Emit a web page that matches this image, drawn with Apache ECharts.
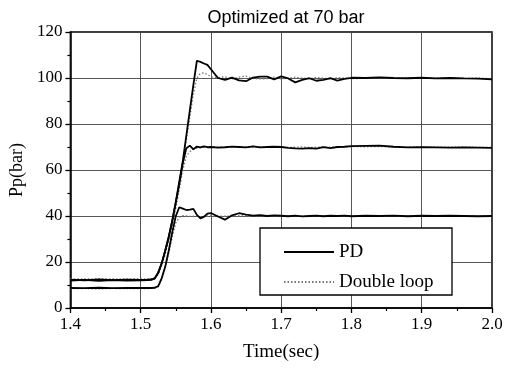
<!DOCTYPE html>
<html>
<head>
<meta charset="utf-8">
<script src="https://cdn.jsdelivr.net/npm/echarts@6/dist/echarts.min.js"></script>
<style>html,body{margin:0;padding:0;background:#fff}#c{width:511px;height:368px}</style>
</head>
<body>
<div id="c"></div>
<script>
// time samples (sec)
var time = [1.40,1.42,1.44,1.46,1.48,1.50,
  1.51,1.515,1.52,1.525,1.53,1.535,1.54,1.545,1.55,1.555,1.56,1.565,1.57,1.575,1.58,1.585,1.59,1.595,1.60,
  1.61,1.62,1.63,1.64,1.65,1.66,1.67,1.68,1.69,1.70,1.71,1.72,1.73,1.74,1.75,1.76,1.77,1.78,1.79,1.80,
  1.82,1.84,1.86,1.88,1.90,1.92,1.94,1.96,1.98,2.00];

// PD responses
var pd100 = [12.3,12.0,12.4,12.1,12.3,12.2,
  12.3,12.4,13.0,15.5,19.5,25,31,38,46,55,64,75,86,97,107.5,107.0,106.3,105.7,103.8,
  100.0,99.2,100.2,99.0,98.6,100.2,100.6,100.6,99.4,100.7,99.8,98.1,99.2,99.9,98.8,99.2,99.9,98.9,99.6,100.1,
  100.0,100.3,100.0,99.9,100.1,99.8,100.0,99.8,99.7,99.4];
var pd70 = [11.9,12.2,11.8,12.1,11.9,12.0,
  12.1,12.2,12.8,15.2,19.5,25,31,38,46,54,63,69.5,70.6,69.0,70.2,69.8,70.3,69.9,70.0,
  69.7,69.9,70.2,70.0,69.8,70.3,69.8,70.0,70.1,70.0,69.6,69.4,69.3,69.5,69.3,69.9,69.5,70.0,70.1,70.4,
  70.5,70.6,70.1,69.8,69.9,69.8,69.7,69.8,69.7,69.6];
var pd40 = [8.7,8.6,8.8,8.6,8.7,8.7,
  8.7,8.7,8.8,9.5,13,18,25,33,40,43.8,43.2,42.6,42.8,43.1,40.5,39.0,39.6,41.0,41.3,
  39.8,38.4,40.3,41.2,40.6,40.2,40.4,40.0,40.3,40.1,39.9,40.2,39.8,40.0,40.2,39.9,40.1,40.0,40.2,39.9,
  40.1,40.0,40.2,39.9,40.1,40.0,40.1,40.0,39.9,40.0];

// Double loop responses
var dl100 = [12.6,12.4,12.7,12.5,12.6,12.5,
  12.6,12.7,12.8,15,19,24,30,37,45,54,63,73,83,93,100,102.0,102.2,101.5,100.5,
  100.2,100.5,99.6,100.4,100.8,99.8,99.6,99.7,100.4,99.6,99.9,100.4,100.0,99.6,100.3,99.9,99.5,100.2,100.0,99.7,
  99.9,100.1,99.8,100.0,100.2,99.9,100.0,99.8,100.0,99.7];
var dl70 = [12.4,12.6,12.3,12.5,12.4,12.6,
  12.5,12.6,12.9,14.8,18.5,23.5,29.5,36,43.5,51.5,60,66,68,69,69.5,69.7,69.8,70.0,70.1,
  70.0,69.8,70.1,70.0,69.9,70.1,70.0,69.9,70.1,70.0,69.8,69.9,70.0,69.8,69.9,70.0,69.9,70.1,70.0,70.2,
  70.1,70.2,70.0,69.9,70.0,69.9,69.9,70.0,69.8,69.8];
var dl40 = [8.4,8.5,8.3,8.5,8.4,8.5,
  8.4,8.5,8.6,9.3,12.5,17.5,24,31,37,39.5,40.2,40.0,39.8,39.9,40.0,39.7,39.8,40.0,40.1,
  40.0,39.9,40.0,40.1,40.0,39.9,40.0,40.1,40.0,39.9,40.0,40.0,39.9,40.0,40.1,40.0,39.9,40.0,40.0,40.0,
  40.0,39.9,40.0,40.0,40.1,40.0,39.9,40.0,40.0,40.0];

var titleText = 'Optimized at 70 bar';
var xName = 'Time(sec)';
var yName = 'Pp(bar)';
var legendNames = ['PD', 'Double loop'];

function pairs(v){ return time.map(function(t,i){ return [t, v[i]]; }); }

var serif = '"Liberation Serif", "Times New Roman", serif';
var chart = echarts.init(document.getElementById('c'), null, {renderer:'canvas'});

var pdStyle = {color:'#000', width:1.8, type:'solid'};
var dlStyle = {color:'#777', width:1.3, type:[1.5,2]};
function mk(name, arr, style, z){
  return {name:name, type:'line', data:pairs(arr), symbol:'none', showSymbol:false,
    lineStyle:style, itemStyle:{color:style.color}, z:z, animation:false, silent:true};
}

chart.setOption({
  animation:false,
  title:{text:titleText, left:281, top:4, textAlign:'center',
    textStyle:{fontFamily:'"Liberation Sans", Arial, sans-serif', fontSize:18, fontWeight:'normal', color:'#000'}},
  grid:{left:70, right:19, top:32, bottom:60, show:true, borderColor:'#000', borderWidth:1.5, backgroundColor:'transparent'},
  legend:{data:legendNames, orient:'vertical', left:278, top:237, itemWidth:50, itemHeight:14, itemGap:10,
    itemStyle:{opacity:0},
    textStyle:{fontFamily:serif, fontSize:19, color:'#000', lineHeight:20}, z:20, selectedMode:false},
  graphic:[{type:'rect', shape:{x:260, y:228, width:192, height:67}, style:{fill:'#fff', stroke:'#000', lineWidth:1.3}, z:15}],
  xAxis:{type:'value', min:1.4, max:2.0, interval:0.1, name:xName, nameLocation:'middle', nameGap:35,
    nameTextStyle:{fontFamily:serif, fontSize:19, color:'#000'},
    axisLine:{lineStyle:{color:'#000', width:1.5}},
    axisTick:{show:true, inside:false, length:5, lineStyle:{color:'#000', width:1.3}},
    minorTick:{show:true, splitNumber:2, length:3, lineStyle:{color:'#000', width:1.2}},
    axisLabel:{fontFamily:serif, fontSize:17, color:'#000', margin:8, formatter:function(v){return v.toFixed(1);}},
    splitLine:{show:true, lineStyle:{color:'#444', width:0.9}}},
  yAxis:{type:'value', min:0, max:120, interval:20, name:yName, nameLocation:'middle', nameGap:38, nameRotate:90,
    nameTextStyle:{fontFamily:serif, fontSize:18, color:'#000'},
    axisLine:{show:true, lineStyle:{color:'#000', width:1.5}},
    axisTick:{show:true, inside:false, length:5, lineStyle:{color:'#000', width:1.3}},
    minorTick:{show:true, splitNumber:2, length:3, lineStyle:{color:'#000', width:1.2}},
    axisLabel:{fontFamily:serif, fontSize:17, color:'#000', margin:8},
    splitLine:{show:true, lineStyle:{color:'#444', width:0.9}}},
  series:[
    mk('Double loop', dl100, dlStyle, 3),
    mk('Double loop', dl70, dlStyle, 3),
    mk('Double loop', dl40, dlStyle, 3),
    mk('PD', pd100, pdStyle, 4),
    mk('PD', pd70, pdStyle, 4),
    mk('PD', pd40, pdStyle, 4)
  ]
});
</script>
</body>
</html>
